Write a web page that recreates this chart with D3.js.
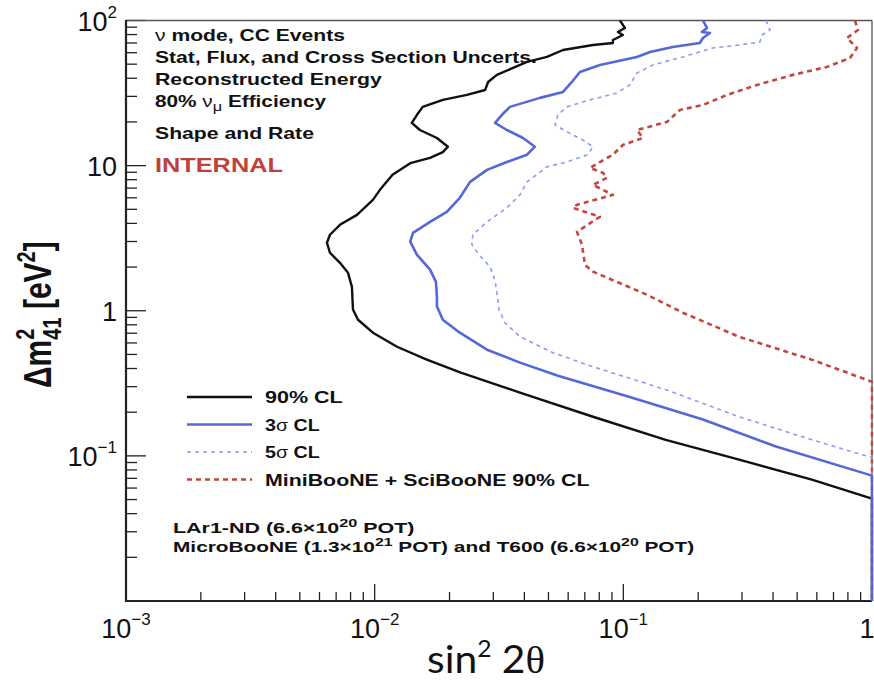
<!DOCTYPE html>
<html><head><meta charset="utf-8">
<script src="https://cdn.jsdelivr.net/npm/d3@7/dist/d3.min.js"></script>
<style>body{margin:0;background:#fff}svg{display:block}</style>
</head><body>
<svg id="c" width="874" height="682"></svg>
<script>
// ---- data: [sin^2 2theta, dm^2_41 (eV^2)] ----
const cl90 = [[0.0969,100],[0.1015,88.8],[0.0951,83.3],[0.0996,79.5],[0.0908,73.4],[0.0908,70.0],[0.0755,67.8],[0.0572,62.6],[0.0493,56.1],[0.0410,51.8],[0.0360,47.1],[0.0310,42.2],[0.0286,37.7],[0.0278,33.2],[0.0235,30.7],[0.0188,28.4],[0.0156,25.4],[0.0148,22.4],[0.0141,19.7],[0.0152,17.6],[0.0178,15.5],[0.0197,13.5],[0.0188,12.4],[0.0167,11.3],[0.0139,10.4],[0.0118,8.64],[0.0105,6.81],[0.00984,5.81],[0.00849,4.58],[0.00725,3.91],[0.00661,3.34],[0.00643,2.94],[0.00661,2.51],[0.00725,2.14],[0.00781,1.83],[0.00810,1.46],[0.00818,1.02],[0.00857,0.867],[0.00984,0.706],[0.0123,0.565],[0.0162,0.460],[0.0222,0.374],[0.0384,0.273],[0.0755,0.186],[0.148,0.129],[0.292,0.0942],[0.573,0.0686],[1,0.0508],[1,0.01]];
const cl3s = [[0.209,100],[0.217,88.8],[0.207,83.3],[0.223,82.0],[0.209,75.8],[0.203,70.0],[0.158,65.7],[0.128,60.7],[0.1134,56.1],[0.0805,49.4],[0.0669,44.2],[0.0621,37.7],[0.0572,32.2],[0.0462,29.3],[0.0350,25.4],[0.0325,22.4],[0.0305,19.7],[0.0340,17.6],[0.0395,15.5],[0.0441,13.5],[0.0410,11.9],[0.0340,10.6],[0.0283,9.35],[0.0242,7.73],[0.0220,6.00],[0.0195,4.80],[0.0167,4.10],[0.01426,3.44],[0.0139,2.99],[0.0148,2.43],[0.0167,1.92],[0.01764,1.58],[0.0178,1.23],[0.0178,1.07],[0.0188,0.867],[0.0220,0.706],[0.0283,0.539],[0.0384,0.439],[0.0546,0.357],[0.1053,0.256],[0.209,0.178],[0.411,0.116],[1,0.0731],[1,0.01]];
const cl5s = [[0.3745,100],[0.389,86.0],[0.361,79.5],[0.354,71.1],[0.294,67.8],[0.229,64.7],[0.1736,56.1],[0.1315,49.4],[0.1134,43.5],[0.1063,36.0],[0.0943,31.7],[0.0734,28.4],[0.0593,25.4],[0.0546,22.4],[0.0531,19.1],[0.0593,17.1],[0.0688,15.0],[0.0755,13.5],[0.0721,11.9],[0.0593,10.6],[0.0493,9.80],[0.0410,7.73],[0.0384,6.29],[0.0340,5.12],[0.0283,4.10],[0.0248,3.34],[0.0246,2.85],[0.0265,2.39],[0.0291,2.01],[0.0305,1.61],[0.0313,1.19],[0.0316,1.02],[0.0334,0.827],[0.0384,0.662],[0.0521,0.514],[0.0734,0.418],[0.148,0.286],[0.292,0.186],[0.573,0.129],[1,0.0973],[1,0.01]];
const miniSci90 = [[0.854,100],[0.878,86.0],[0.793,75.8],[0.870,64.7],[0.815,55.2],[0.659,47.9],[0.481,42.2],[0.345,36.0],[0.261,30.7],[0.209,26.2],[0.1689,24.2],[0.1498,20.0],[0.1134,17.6],[0.1199,15.5],[0.0996,13.9],[0.0908,11.9],[0.0734,9.65],[0.0828,8.92],[0.0859,8.24],[0.0755,7.37],[0.0908,6.29],[0.0651,5.37],[0.0627,5.12],[0.0805,4.44],[0.0651,3.50],[0.0682,2.85],[0.0701,2.07],[0.0755,1.86],[0.0943,1.58],[0.1244,1.29],[0.1736,0.969],[0.292,0.662],[0.573,0.460],[1,0.324],[1,0.01]];

const xMajor = [1e-3, 1e-2, 1e-1, 1];
const xTickLabels = [["10","\u22123"],["10","\u22122"],["10","\u22121"],["1",""]];
const yMajor = [1e-2, 1e-1, 1, 10, 100];
const yTickLabels = [null, ["10","\u22121"], ["1",""], ["10",""], ["10","2"]];
const legendLabels = [["90% CL"],["3","\u03c3"," CL"],["5","\u03c3"," CL"],["MiniBooNE + SciBooNE 90% CL"]];

// ---- drawing ----
const F = "'Liberation Sans', Arial, Helvetica, sans-serif";
const svg = d3.select("#c");
const L=126, T=20.5, R=872, B=601;
const x = d3.scaleLog().domain([1e-3,1]).range([L,R]);
const y = d3.scaleLog().domain([1e-2,1e2]).range([B,T]);

svg.append("defs").append("clipPath").attr("id","clip")
  .append("rect").attr("x",L).attr("y",T-1).attr("width",R-L+1.5).attr("height",B-T+1);

// minor/major ticks
function minors(lo,hi){const a=[];for(let e=Math.log10(lo);e<Math.log10(hi);e++){for(let k=2;k<=9;k++)a.push(k*Math.pow(10,e));}return a;}
const g = svg.append("g").attr("stroke","#222").attr("stroke-width",1.3);
minors(1e-3,1).forEach(v=>g.append("line").attr("x1",x(v)).attr("x2",x(v)).attr("y1",B).attr("y2",B-9));
xMajor.forEach(v=>g.append("line").attr("x1",x(v)).attr("x2",x(v)).attr("y1",B).attr("y2",B-17));
minors(1e-2,1e2).forEach(v=>g.append("line").attr("y1",y(v)).attr("y2",y(v)).attr("x1",L).attr("x2",L+11));
yMajor.forEach(v=>g.append("line").attr("y1",y(v)).attr("y2",y(v)).attr("x1",L).attr("x2",L+20));

// frame
svg.append("line").attr("x1",L).attr("x2",R).attr("y1",T).attr("y2",T).attr("stroke","#555").attr("stroke-width",1.3);
svg.append("line").attr("x1",R).attr("x2",R).attr("y1",T).attr("y2",B).attr("stroke","#555").attr("stroke-width",1.3);
svg.append("line").attr("x1",L).attr("x2",L).attr("y1",T-0.5).attr("y2",B+1).attr("stroke","#222").attr("stroke-width",2.2);
svg.append("line").attr("x1",L-1).attr("x2",R).attr("y1",B).attr("y2",B).attr("stroke","#222").attr("stroke-width",2.2);

// tick labels
xMajor.forEach((v,i)=>{
  const last = i===xMajor.length-1;
  const t = svg.append("text").attr("x",last? 867 : x(v)).attr("y",638).attr("text-anchor","middle")
    .attr("font-family",F).attr("font-size",27).attr("fill","#111");
  t.append("tspan").text(xTickLabels[i][0]);
  if(xTickLabels[i][1]) t.append("tspan").attr("font-size",17).attr("dy",-13).text(xTickLabels[i][1]);
});
yMajor.forEach((v,i)=>{
  const lab=yTickLabels[i]; if(!lab) return;
  const t = svg.append("text").attr("x",117).attr("y",y(v)+10).attr("text-anchor","end")
    .attr("font-family",F).attr("font-size",27).attr("fill","#111");
  t.append("tspan").text(lab[0]);
  if(lab[1]) t.append("tspan").attr("font-size",17).attr("dy",-13).text(lab[1]);
});

// axis titles
const xt = svg.append("text").attr("x",0).attr("y",0)
  .attr("font-family","Lato, 'Open Sans', sans-serif").attr("font-size",38).attr("fill","#111");
xt.append("tspan").text("sin");
xt.append("tspan").attr("font-size",23).attr("dy",-16).text("2");
xt.append("tspan").attr("dy",16).text(" 2");
xt.append("tspan").attr("font-family","'Liberation Serif', 'DejaVu Serif', serif").text("\u03b8");
{ const w = xt.node().getBBox().width; const sx = 118/w;
  xt.attr("transform",`translate(427,673) scale(${sx},1)`); }

const yt = svg.append("text").attr("transform","translate(51,388) rotate(-90) scale(1,1.3)")
  .attr("font-family",F).attr("font-weight","bold").attr("font-size",30).attr("fill","#111");
yt.append("tspan").text("\u0394m");
yt.append("tspan").attr("font-size",20).attr("dy",-13).text("2");
yt.append("tspan").attr("font-size",20).attr("dx",-11).attr("dy",21).text("41");
yt.append("tspan").attr("dy",-8).text(" [eV");
yt.append("tspan").attr("font-size",20).attr("dy",-12).text("2");
yt.append("tspan").attr("dy",12).text("]");

// curves (3-sigma drawn last so it covers the right edge, as in the reference)
const line = d3.line().x(d=>x(d[0])).y(d=>y(d[1]));
const curves = [
  {d:cl90, c:"#111", w:2.4, dash:null},
  {d:cl3s, c:"#5468d8", w:2.6, dash:null},
  {d:cl5s, c:"#8d9cf0", w:1.6, dash:"4,4"},
  {d:miniSci90, c:"#c4463e", w:2.6, dash:"5,4"}
];
const cg = svg.append("g").attr("clip-path","url(#clip)");
[0,3,2,1].forEach(i=>{
  const k=curves[i];
  cg.append("path").attr("d",line(k.d)).attr("fill","none").attr("stroke",k.c)
    .attr("stroke-width",k.w).attr("stroke-dasharray",k.dash).attr("stroke-linejoin","round");
});

// annotations (text is stretched horizontally to the reference widths)
function txt(xp,yp,size,parts,fill,width){
  const t=svg.append("text").attr("x",0).attr("y",0).attr("font-family",F)
    .attr("font-weight","bold").attr("font-size",size).attr("fill",fill||"#111");
  parts.forEach(p=>{
    const s=t.append("tspan").text(p.t);
    if(p.n) s.attr("font-weight","normal");
    if(p.fs) s.attr("font-size",p.fs);
    if(p.dy) s.attr("dy",p.dy);
  });
  let sx=1;
  if(width){ const w=t.node().getBBox().width; if(w>0) sx=width/w; }
  t.attr("transform",`translate(${xp},${yp}) scale(${sx},1)`);
  return t;
}
txt(155,41,16.5,[{t:"\u03bd",n:1},{t:" mode, CC Events"}],null,190);
txt(155,63,16.5,[{t:"Stat, Flux, and Cross Section Uncerts."}],null,382);
txt(155,85,16.5,[{t:"Reconstructed Energy"}],null,228);
txt(155,107,16.5,[{t:"80% "},{t:"\u03bd",n:1},{t:"\u03bc",n:1,fs:13,dy:4},{t:" Efficiency",dy:-4}],null,172);
txt(155,139,16.5,[{t:"Shape and Rate"}],null,159);
txt(155,172,20.5,[{t:"INTERNAL"}],"#c0403a",128);

// legend
const legW=[78,55,55,325];
curves.forEach((k,i)=>{
  const yy = 397 + i*27.5;
  svg.append("line").attr("x1",187).attr("x2",252).attr("y1",yy).attr("y2",yy)
    .attr("stroke",k.c).attr("stroke-width",k.w).attr("stroke-dasharray",k.dash);
  const lab = legendLabels[i];
  const parts = lab.length===1 ? [{t:lab[0]}] : [{t:lab[0]},{t:lab[1],n:1},{t:lab[2]}];
  txt(265,yy+6,16,parts,null,legW[i]);
});

txt(173,533,14.5,[{t:"LAr1-ND (6.6\u00d710"},{t:"20",fs:11,dy:-6},{t:" POT)",dy:6}],null,242);
txt(173,552,14.5,[{t:"MicroBooNE (1.3\u00d710"},{t:"21",fs:11,dy:-6},{t:" POT) and T600 (6.6\u00d710",dy:6},{t:"20",fs:11,dy:-6},{t:" POT)",dy:6}],null,522);
</script>
</body></html>
